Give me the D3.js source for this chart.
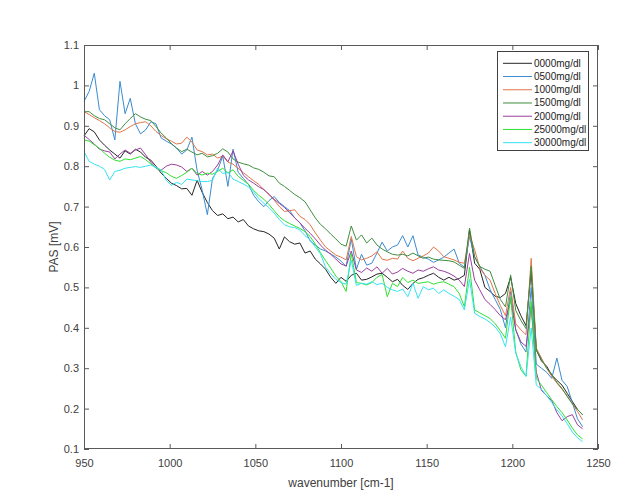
<!DOCTYPE html>
<html>
<head>
<meta charset="utf-8">
<script src="https://cdn.jsdelivr.net/npm/d3@7"></script>
<style>
  html, body { margin: 0; padding: 0; background: #fff; }
  svg { display: block; font-family: "Liberation Sans", Arial, sans-serif; }
</style>
</head>
<body>
<svg id="chart" width="638" height="502"></svg>
<script>
// ---------------- DATA ----------------
const wavenumbers = [950,953,956,959,962,965,968,971,974,977,980,983,986,989,992,995,998,1001,1004,1007,
1010,1013,1016,1019,1022,1025,1028,1031,1034,1037,1040,1043,1046,1049,1052,1055,1058,1061,1064,1067,
1070,1073,1076,1079,1082,1085,1088,1091,1094,1097,1100,1103,1106,1109,1112,1115,1118,1121,1124,1127,
1130,1133,1136,1139,1142,1145,1148,1151,1154,1157,1160,1163,1166,1169,1172,1175,1178,1181,1184,1187,
1190,1193,1196,1199,1202,1205,1208,1211,1214,1217,1220,1223,1226,1229,1232,1235,1238,1241];

const seriesNames = ["0000mg/dl","0500mg/dl","1000mg/dl","1500mg/dl","2000mg/dl","25000mg/dl","30000mg/dl"];
const seriesColors = ["#262626","#3b8bd0","#e0764a","#3f8f3f","#9a3f9f","#2fe02f","#35e3f3"];

const s0000 = [0.875,0.893,0.885,0.865,0.852,0.84,0.83,0.82,0.838,0.83,0.842,0.835,0.822,0.815,0.80,0.783,0.77,0.758,0.752,0.744,
0.745,0.728,0.765,0.735,0.71,0.69,0.678,0.682,0.67,0.674,0.662,0.668,0.652,0.645,0.64,0.638,0.632,0.622,0.595,0.625,
0.613,0.607,0.61,0.585,0.59,0.57,0.558,0.545,0.525,0.51,0.525,0.515,0.53,0.535,0.518,0.52,0.526,0.533,0.535,0.525,
0.514,0.52,0.505,0.495,0.51,0.52,0.524,0.53,0.535,0.525,0.518,0.525,0.518,0.522,0.53,0.642,0.56,0.545,0.50,0.49,
0.478,0.475,0.485,0.525,0.46,0.43,0.405,0.54,0.345,0.318,0.305,0.283,0.27,0.258,0.238,0.218,0.198,0.185];

const s0500 = [0.96,0.985,1.03,0.94,0.925,0.915,0.865,1.01,0.93,0.968,0.905,0.88,0.89,0.91,0.905,0.87,0.862,0.855,0.845,0.83,
0.84,0.872,0.79,0.74,0.68,0.77,0.79,0.825,0.75,0.842,0.785,0.77,0.755,0.728,0.712,0.70,0.715,0.725,0.71,0.70,
0.69,0.672,0.66,0.64,0.615,0.605,0.595,0.59,0.583,0.575,0.565,0.552,0.62,0.545,0.582,0.555,0.56,0.585,0.612,0.59,
0.60,0.605,0.628,0.60,0.628,0.58,0.575,0.57,0.562,0.568,0.575,0.585,0.595,0.56,0.55,0.626,0.576,0.552,0.53,0.495,
0.47,0.445,0.40,0.49,0.395,0.36,0.34,0.50,0.31,0.30,0.29,0.275,0.325,0.27,0.255,0.215,0.175,0.155];

const s1000 = [0.935,0.928,0.92,0.913,0.905,0.895,0.886,0.884,0.89,0.898,0.905,0.908,0.91,0.90,0.886,0.876,0.868,0.862,0.855,0.857,
0.872,0.86,0.84,0.836,0.828,0.83,0.82,0.825,0.81,0.805,0.795,0.784,0.774,0.764,0.755,0.742,0.73,0.716,0.70,0.688,
0.69,0.692,0.676,0.668,0.655,0.635,0.617,0.60,0.59,0.58,0.575,0.568,0.626,0.576,0.568,0.572,0.578,0.588,0.57,0.567,
0.572,0.57,0.59,0.572,0.566,0.572,0.578,0.585,0.60,0.59,0.576,0.572,0.568,0.562,0.56,0.63,0.593,0.548,0.53,0.518,
0.485,0.455,0.43,0.50,0.41,0.395,0.383,0.572,0.35,0.325,0.30,0.28,0.263,0.248,0.232,0.212,0.193,0.172];

const s1500 = [0.935,0.935,0.925,0.918,0.915,0.905,0.895,0.89,0.905,0.918,0.93,0.922,0.916,0.913,0.898,0.882,0.87,0.856,0.845,0.836,
0.842,0.835,0.828,0.832,0.823,0.826,0.832,0.843,0.835,0.818,0.81,0.806,0.803,0.796,0.792,0.785,0.776,0.774,0.758,0.75,
0.74,0.73,0.722,0.712,0.692,0.672,0.656,0.645,0.632,0.62,0.607,0.602,0.652,0.617,0.63,0.61,0.622,0.605,0.595,0.588,
0.582,0.58,0.582,0.578,0.585,0.578,0.572,0.575,0.57,0.568,0.567,0.566,0.563,0.555,0.547,0.647,0.576,0.552,0.545,0.54,
0.505,0.47,0.452,0.531,0.443,0.418,0.398,0.552,0.345,0.322,0.30,0.285,0.265,0.25,0.23,0.212,0.198,0.185];

const s2000 = [0.877,0.866,0.855,0.842,0.838,0.835,0.818,0.83,0.84,0.832,0.84,0.845,0.828,0.81,0.795,0.79,0.80,0.805,0.803,0.798,
0.787,0.795,0.778,0.787,0.778,0.787,0.803,0.828,0.811,0.838,0.805,0.778,0.766,0.758,0.749,0.742,0.73,0.718,0.708,0.698,
0.685,0.672,0.66,0.646,0.634,0.62,0.605,0.592,0.582,0.57,0.558,0.553,0.59,0.543,0.537,0.548,0.54,0.551,0.535,0.547,
0.533,0.538,0.547,0.54,0.535,0.543,0.54,0.546,0.551,0.543,0.54,0.535,0.528,0.518,0.502,0.584,0.518,0.494,0.47,0.458,
0.445,0.43,0.42,0.469,0.395,0.365,0.354,0.452,0.29,0.245,0.232,0.22,0.19,0.17,0.18,0.185,0.16,0.15];

const s25000 = [0.865,0.862,0.853,0.845,0.832,0.822,0.815,0.812,0.818,0.816,0.82,0.824,0.816,0.806,0.796,0.789,0.784,0.775,0.77,0.777,
0.785,0.795,0.782,0.778,0.783,0.78,0.787,0.795,0.783,0.791,0.775,0.765,0.755,0.74,0.728,0.718,0.705,0.69,0.675,0.665,
0.658,0.652,0.646,0.638,0.626,0.607,0.586,0.566,0.548,0.528,0.514,0.49,0.584,0.512,0.51,0.506,0.512,0.525,0.532,0.477,
0.51,0.502,0.525,0.512,0.518,0.51,0.512,0.514,0.508,0.512,0.514,0.508,0.502,0.485,0.452,0.55,0.444,0.437,0.43,0.423,
0.41,0.393,0.374,0.477,0.34,0.296,0.28,0.465,0.275,0.258,0.24,0.222,0.205,0.19,0.172,0.152,0.135,0.125];

const s30000 = [0.836,0.812,0.805,0.80,0.792,0.766,0.787,0.79,0.795,0.797,0.799,0.797,0.80,0.803,0.797,0.791,0.765,0.753,0.76,0.755,
0.768,0.766,0.764,0.762,0.762,0.765,0.795,0.782,0.785,0.768,0.762,0.756,0.749,0.736,0.72,0.708,0.697,0.684,0.668,0.655,
0.65,0.648,0.642,0.628,0.618,0.60,0.583,0.55,0.534,0.52,0.512,0.508,0.567,0.505,0.51,0.508,0.514,0.507,0.51,0.50,
0.494,0.49,0.496,0.477,0.51,0.473,0.502,0.494,0.498,0.485,0.494,0.485,0.478,0.47,0.444,0.52,0.436,0.428,0.422,0.413,
0.402,0.385,0.353,0.427,0.337,0.304,0.28,0.40,0.258,0.248,0.232,0.215,0.197,0.182,0.163,0.142,0.128,0.118];

const seriesValues = [s0000, s0500, s1000, s1500, s2000, s25000, s30000];

const xTicks = [950,1000,1050,1100,1150,1200,1250];
const xTickLabels = ["950","1000","1050","1100","1150","1200","1250"];
const yTicks = [0.1,0.2,0.3,0.4,0.5,0.6,0.7,0.8,0.9,1.0,1.1];
const yTickLabels = ["0.1","0.2","0.3","0.4","0.5","0.6","0.7","0.8","0.9","1","1.1"];

const xLabel = "wavenumber [cm-1]";
const yLabel = "PAS [mV]";

// ---------------- LAYOUT ----------------
const L = 84, R = 598, T = 45, B = 449;
const axisColor = "#5a5a5a";
const textColor = "#404040";

const svg = d3.select("#chart");
svg.append("rect").attr("width", 638).attr("height", 502).attr("fill", "#fff");

const x = d3.scaleLinear().domain([950, 1250]).range([L, R]);
const y = d3.scaleLinear().domain([0.1, 1.1]).range([B, T]);

// plot background
svg.append("rect").attr("x", L).attr("y", T).attr("width", R - L).attr("height", B - T).attr("fill", "#fff");

// lines
const line = d3.line().x((d, i) => x(wavenumbers[i])).y(d => y(d));
const gLines = svg.append("g");
seriesValues.forEach((vals, k) => {
  gLines.append("path")
    .datum(vals)
    .attr("d", line)
    .attr("fill", "none")
    .attr("stroke", seriesColors[k])
    .attr("stroke-width", 1)
    .attr("stroke-linejoin", "round");
});

// axes
function styleAxis(g) {
  g.select(".domain").remove();
  g.selectAll(".tick line").attr("stroke", axisColor);
  g.selectAll(".tick text").attr("fill", textColor).style("font-family", "'Liberation Sans', Arial, sans-serif").style("font-size", "11px");
}
svg.append("g").attr("transform", `translate(0,${B})`)
  .call(d3.axisBottom(x).tickValues(xTicks).tickFormat((d, i) => xTickLabels[i]).tickSizeInner(-5).tickSizeOuter(0).tickPadding(10))
  .call(styleAxis);
svg.append("g").attr("transform", `translate(0,${T})`)
  .call(d3.axisTop(x).tickValues(xTicks).tickFormat("").tickSizeInner(-5).tickSizeOuter(0))
  .call(styleAxis);
svg.append("g").attr("transform", `translate(${L},0)`)
  .call(d3.axisLeft(y).tickValues(yTicks).tickFormat((d, i) => yTickLabels[i]).tickSizeInner(-5).tickSizeOuter(0).tickPadding(5))
  .call(styleAxis);
svg.append("g").attr("transform", `translate(${R},0)`)
  .call(d3.axisRight(y).tickValues(yTicks).tickFormat("").tickSizeInner(-5).tickSizeOuter(0))
  .call(styleAxis);

// box
svg.append("rect").attr("x", L + 0.5).attr("y", T + 0.5).attr("width", R - L - 1).attr("height", B - T - 1)
  .attr("fill", "none").attr("stroke", axisColor).attr("stroke-width", 1);

// axis labels
svg.append("text").attr("x", (L + R) / 2).attr("y", 487).attr("text-anchor", "middle")
  .attr("fill", textColor).style("font-size", "12px").text(xLabel);
svg.append("text").attr("transform", `translate(58,${(T + B) / 2}) rotate(-90)`).attr("text-anchor", "middle")
  .attr("fill", textColor).style("font-size", "12px").text(yLabel);

// legend
const lgX = 497, lgY = 51, lgW = 91, lgH = 99;
const lg = svg.append("g");
lg.append("rect").attr("x", lgX + 0.5).attr("y", lgY + 0.5).attr("width", lgW).attr("height", lgH)
  .attr("fill", "#fff").attr("stroke", "#404040").attr("stroke-width", 1);
seriesNames.forEach((name, k) => {
  const yy = 63.3 + k * 13.23;
  lg.append("line").attr("x1", 503).attr("x2", 532).attr("y1", yy).attr("y2", yy)
    .attr("stroke", seriesColors[k]).attr("stroke-width", 1);
  lg.append("text").attr("x", 534).attr("y", yy + 3.5).attr("fill", "#222")
    .style("font-size", "10px").text(name);
});
</script>
</body>
</html>
